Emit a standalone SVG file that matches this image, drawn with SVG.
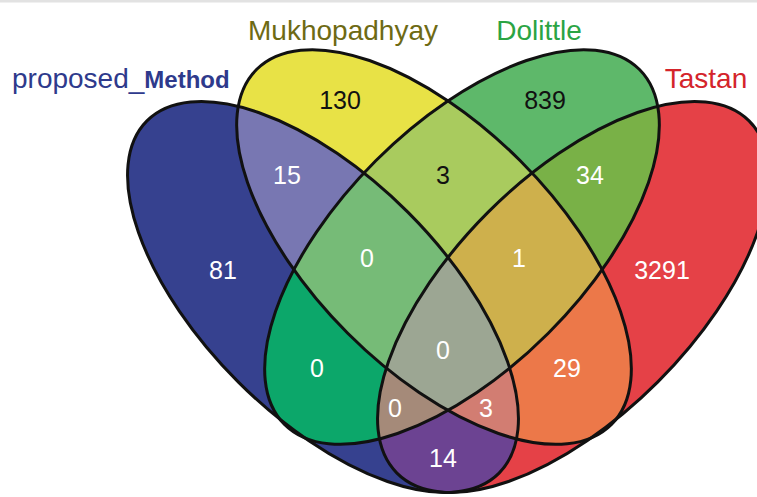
<svg xmlns="http://www.w3.org/2000/svg" xmlns:xlink="http://www.w3.org/1999/xlink" width="757" height="497" viewBox="0 0 757 497">
<style>
.num{font-family:"Liberation Sans",Arial,sans-serif;font-size:25px;text-anchor:middle;fill:#ffffff}
.dark{fill:#111111}
.lbl{font-family:"Liberation Sans",Arial,sans-serif;font-size:28px}
.outline{fill:none;stroke:#111111;stroke-width:3}
</style>
<defs>
<ellipse id="eA" cx="323" cy="297" rx="249" ry="120" transform="rotate(45 323 297)"/>
<ellipse id="eB" cx="434" cy="247" rx="251" ry="122" transform="rotate(45 434 247)"/>
<ellipse id="eC" cx="462" cy="247" rx="251" ry="122" transform="rotate(-45 462 247)"/>
<ellipse id="eD" cx="573" cy="297" rx="249" ry="120" transform="rotate(-45 573 297)"/>
<clipPath id="cA"><ellipse cx="323" cy="297" rx="249" ry="120" transform="rotate(45 323 297)"/></clipPath>
<clipPath id="cB"><ellipse cx="434" cy="247" rx="251" ry="122" transform="rotate(45 434 247)"/></clipPath>
<clipPath id="cC"><ellipse cx="462" cy="247" rx="251" ry="122" transform="rotate(-45 462 247)"/></clipPath>
<clipPath id="cD"><ellipse cx="573" cy="297" rx="249" ry="120" transform="rotate(-45 573 297)"/></clipPath>
</defs>
<rect x="0" y="0" width="757" height="497" fill="#ffffff"/>
<rect x="0" y="0" width="757" height="2.5" fill="#e2e2e2"/>
<g id="region-fills">
<use xlink:href="#eA" fill="#36418F"/>
<use xlink:href="#eB" fill="#E8E246"/>
<use xlink:href="#eC" fill="#5EB86A"/>
<use xlink:href="#eD" fill="#E54147"/>
<g clip-path="url(#cA)"><use xlink:href="#eB" fill="#7877B2"/></g>
<g clip-path="url(#cA)"><use xlink:href="#eC" fill="#0CA76A"/></g>
<g clip-path="url(#cA)"><use xlink:href="#eD" fill="#6C4392"/></g>
<g clip-path="url(#cB)"><use xlink:href="#eC" fill="#A9CB5E"/></g>
<g clip-path="url(#cB)"><use xlink:href="#eD" fill="#EC7849"/></g>
<g clip-path="url(#cC)"><use xlink:href="#eD" fill="#79B147"/></g>
<g clip-path="url(#cA)"><g clip-path="url(#cB)"><use xlink:href="#eC" fill="#76BB77"/></g></g>
<g clip-path="url(#cA)"><g clip-path="url(#cB)"><use xlink:href="#eD" fill="#D27D72"/></g></g>
<g clip-path="url(#cA)"><g clip-path="url(#cC)"><use xlink:href="#eD" fill="#A58A79"/></g></g>
<g clip-path="url(#cB)"><g clip-path="url(#cC)"><use xlink:href="#eD" fill="#CEB04C"/></g></g>
<g clip-path="url(#cA)"><g clip-path="url(#cB)"><g clip-path="url(#cC)"><use xlink:href="#eD" fill="#9CA693"/></g></g></g>
</g>
<g id="set-proposed_Method">
<use xlink:href="#eA" class="outline"/>
<text class="lbl" x="12" y="88" fill="#2E3A8C">proposed_<tspan font-weight="bold" font-size="24">Method</tspan></text>
</g>
<g id="set-Mukhopadhyay">
<use xlink:href="#eB" class="outline"/>
<text class="lbl" x="343" y="40" text-anchor="middle" fill="#6E6A14">Mukhopadhyay</text>
</g>
<g id="set-Dolittle">
<use xlink:href="#eC" class="outline"/>
<text class="lbl" x="539" y="40" text-anchor="middle" fill="#2BA444">Dolittle</text>
</g>
<g id="set-Tastan">
<use xlink:href="#eD" class="outline"/>
<text class="lbl" x="706" y="88" text-anchor="middle" fill="#D4242B">Tastan</text>
</g>
<g id="counts">
<text class="num" x="223" y="279">81</text>
<text class="num dark" x="340" y="109">130</text>
<text class="num dark" x="545" y="109">839</text>
<text class="num" x="662" y="279">3291</text>
<text class="num" x="287" y="184">15</text>
<text class="num dark" x="443" y="184">3</text>
<text class="num" x="590" y="184">34</text>
<text class="num" x="367" y="267">0</text>
<text class="num" x="519" y="267">1</text>
<text class="num" x="317" y="377">0</text>
<text class="num" x="567" y="377">29</text>
<text class="num" x="443" y="359">0</text>
<text class="num" x="395" y="417">0</text>
<text class="num" x="486" y="417">3</text>
<text class="num" x="443" y="467">14</text>
</g>
</svg>
